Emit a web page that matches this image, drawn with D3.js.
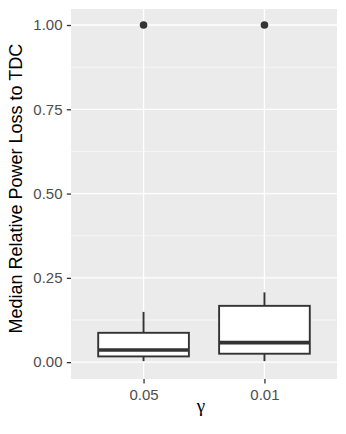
<!DOCTYPE html>
<html><head><meta charset="utf-8">
<script src="https://cdn.jsdelivr.net/npm/d3@7"></script>
<style>body{margin:0;background:#fff}svg{display:block}</style>
</head><body>
<svg id="c" width="346" height="434"></svg>
<script>
const categories = ["0.05", "0.01"];
const whiskerLow = [0.003, 0.003];
const q1 = [0.017, 0.025];
const medians = [0.036, 0.058];
const q3 = [0.087, 0.167];
const whiskerHigh = [0.149, 0.207];
const outliers = [[1.0], [1.0]];
const yTicks = [0, 0.25, 0.5, 0.75, 1.0];
const yMinor = [0.125, 0.375, 0.625, 0.875];

const FONT = "Liberation Sans, Arial, Helvetica, sans-serif";
const svg = d3.select("#c");
const L = 71, R = 337, T = 9, B = 379;
const y = d3.scaleLinear().domain([-0.05, 1.0475]).range([B, T]);
const xs = d3.scalePoint().domain(categories).range([L, R]).padding(0.6);
const step = xs.step();
const bw = 0.75 * step;

svg.append("rect").attr("x", L).attr("y", T).attr("width", R - L).attr("height", B - T).attr("fill", "#EBEBEB");
svg.append("g").selectAll("line").data(yMinor).join("line")
  .attr("x1", L).attr("x2", R).attr("y1", d => y(d)).attr("y2", d => y(d))
  .attr("stroke", "#fff").attr("stroke-width", 0.6);
svg.append("g").selectAll("line").data(yTicks).join("line")
  .attr("x1", L).attr("x2", R).attr("y1", d => y(d)).attr("y2", d => y(d))
  .attr("stroke", "#fff").attr("stroke-width", 1.3);
svg.append("g").selectAll("line").data(categories).join("line")
  .attr("x1", d => xs(d)).attr("x2", d => xs(d)).attr("y1", T).attr("y2", B)
  .attr("stroke", "#fff").attr("stroke-width", 1.3);

const data = categories.map((c, i) => ({c, lo: whiskerLow[i], q1: q1[i], med: medians[i], q3: q3[i], hi: whiskerHigh[i], out: outliers[i]}));
const g = svg.append("g").selectAll("g").data(data).join("g");
const col = "#333333";
g.append("line").attr("x1", d => xs(d.c)).attr("x2", d => xs(d.c)).attr("y1", d => y(d.q3)).attr("y2", d => y(d.hi)).attr("stroke", col).attr("stroke-width", 1.9);
g.append("line").attr("x1", d => xs(d.c)).attr("x2", d => xs(d.c)).attr("y1", d => y(d.q1)).attr("y2", d => y(d.lo)).attr("stroke", col).attr("stroke-width", 1.9);
g.append("rect").attr("x", d => xs(d.c) - bw / 2).attr("width", bw)
  .attr("y", d => y(d.q3)).attr("height", d => y(d.q1) - y(d.q3))
  .attr("fill", "#fff").attr("stroke", col).attr("stroke-width", 1.9);
g.append("line").attr("x1", d => xs(d.c) - bw / 2).attr("x2", d => xs(d.c) + bw / 2).attr("y1", d => y(d.med)).attr("y2", d => y(d.med)).attr("stroke", col).attr("stroke-width", 3.6);
g.selectAll("circle").data(d => d.out.map(v => ({c: d.c, v}))).join("circle")
  .attr("cx", d => xs(d.c)).attr("cy", d => y(d.v)).attr("r", 3.8).attr("fill", col);

const yAxis = svg.append("g").attr("transform", `translate(${L},0)`)
  .call(d3.axisLeft(y).tickValues(yTicks).tickFormat(d3.format(".2f")).tickSize(4.2).tickPadding(4.3));
const xAxis = svg.append("g").attr("transform", `translate(0,${B})`)
  .call(d3.axisBottom(xs).tickSize(4.5).tickPadding(6.3));
[yAxis, xAxis].forEach(a => {
  a.attr("font-size", 15).attr("font-family", FONT);
  a.select(".domain").remove();
  a.selectAll(".tick line").attr("stroke", "#333333").attr("stroke-width", 1.3);
  a.selectAll(".tick text").attr("fill", "#4D4D4D");
});

svg.append("text").attr("x", 201).attr("y", 412).attr("text-anchor", "middle")
  .attr("font-family", "Liberation Serif, DejaVu Serif, serif").attr("font-size", 19).attr("fill", "#000").text("γ");
svg.append("text").attr("transform", `translate(22,188.7) rotate(-90)`).attr("text-anchor", "middle")
  .attr("font-family", FONT).attr("font-size", 18).attr("fill", "#000").text("Median Relative Power Loss to TDC");
</script>
</body></html>
